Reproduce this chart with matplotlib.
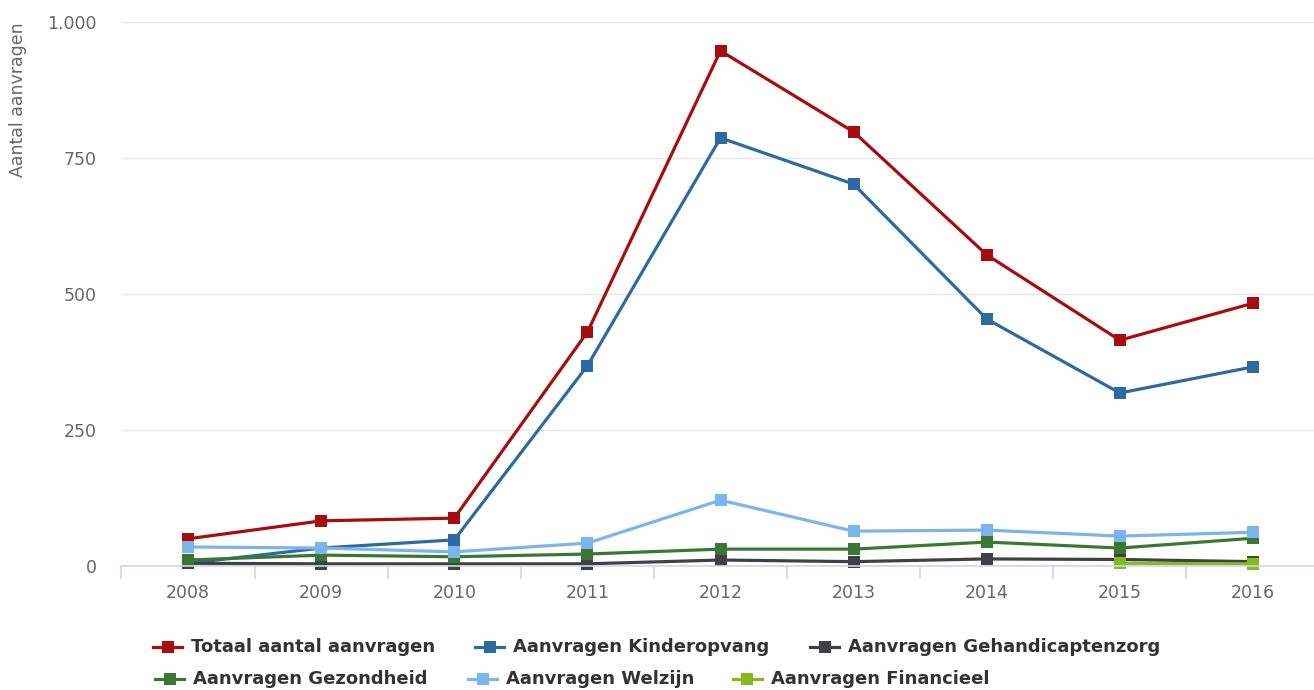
import numpy as np
import matplotlib.pyplot as plt
from matplotlib.lines import Line2D

jaren = ['2008', '2009', '2010', '2011', '2012', '2013', '2014', '2015', '2016']

totaal = [50, 83, 88, 430, 947, 798, 572, 415, 483]
kinderopvang = [5, 33, 48, 368, 787, 702, 454, 318, 366]
gehandicaptenzorg = [5, 4, 4, 4, 11, 8, 13, 12, 8]
gezondheid = [11, 20, 17, 22, 31, 31, 44, 33, 51]
welzijn = [35, 33, 26, 42, 121, 64, 66, 55, 62]
financieel = [np.nan, np.nan, np.nan, np.nan, np.nan, np.nan, np.nan, 5, 4]

namen = ['Totaal aantal aanvragen', 'Aanvragen Kinderopvang', 'Aanvragen Gehandicaptenzorg',
         'Aanvragen Gezondheid', 'Aanvragen Welzijn', 'Aanvragen Financieel']
kleuren = ['#a80d0d', '#2d69a2', '#404045', '#3b7734', '#7cb5ec', '#85bb1f']
reeksen = [totaal, kinderopvang, gehandicaptenzorg, gezondheid, welzijn, financieel]

fig = plt.figure(figsize=(13.14, 6.90), dpi=100)
W, H = 1314, 690
ax = fig.add_axes([121.5 / W, 1 - 566 / H, 1198 / W, 544 / H])

x = np.arange(len(jaren))
for naam, kleur, waarden in zip(namen, kleuren, reeksen):
    ax.plot(x, waarden, color=kleur, lw=2.3, marker='s', ms=8.5, mew=0,
            label=naam, clip_on=False)

ax.set_xlim(-0.5, len(jaren) - 0.5)
ax.set_ylim(0, 1000)
ax.set_yticks([0, 250, 500, 750, 1000])
ax.set_yticklabels(['0', '250', '500', '750', '1.000'])
ax.set_xticks(x)
ax.set_xticklabels(jaren)
ax.set_xticks(np.arange(-0.5, len(jaren)), minor=True)

ax.grid(axis='y', color='#e6e6e6', lw=1)
ax.set_axisbelow(True)
for s in ['top', 'right', 'left']:
    ax.spines[s].set_visible(False)
ax.spines['bottom'].set_color('#ccd6eb')
ax.spines['bottom'].set_linewidth(1.2)

ax.tick_params(axis='y', length=0, pad=18, labelsize=12.5, labelcolor='#666666')
ax.tick_params(axis='x', which='major', length=0, pad=13, labelsize=12.5, labelcolor='#666666')
ax.tick_params(axis='x', which='minor', length=9, width=1.2, color='#ccd6eb')

fig.text(18 / W, 1 - 22 / H, 'Aantal aanvragen', rotation=90, ha='center', va='top',
         fontsize=12.5, color='#666666')

# legenda in twee rijen, zoals in het origineel
posities = [(153, 647), (475, 647), (810, 647), (155, 679), (468, 679), (733, 679)]
for (px, py), naam, kleur in zip(posities, namen, kleuren):
    yy = 1 - py / H
    fig.add_artist(Line2D([px / W, (px + 29) / W], [yy, yy], color=kleur, lw=2.3))
    fig.add_artist(Line2D([(px + 14.5) / W], [yy], color=kleur, marker='s', ms=8.5, mew=0))
    fig.text((px + 38) / W, yy, naam, ha='left', va='center', fontsize=13,
             fontweight='bold', color='#333333')

fig.savefig('out.png', dpi=100)
